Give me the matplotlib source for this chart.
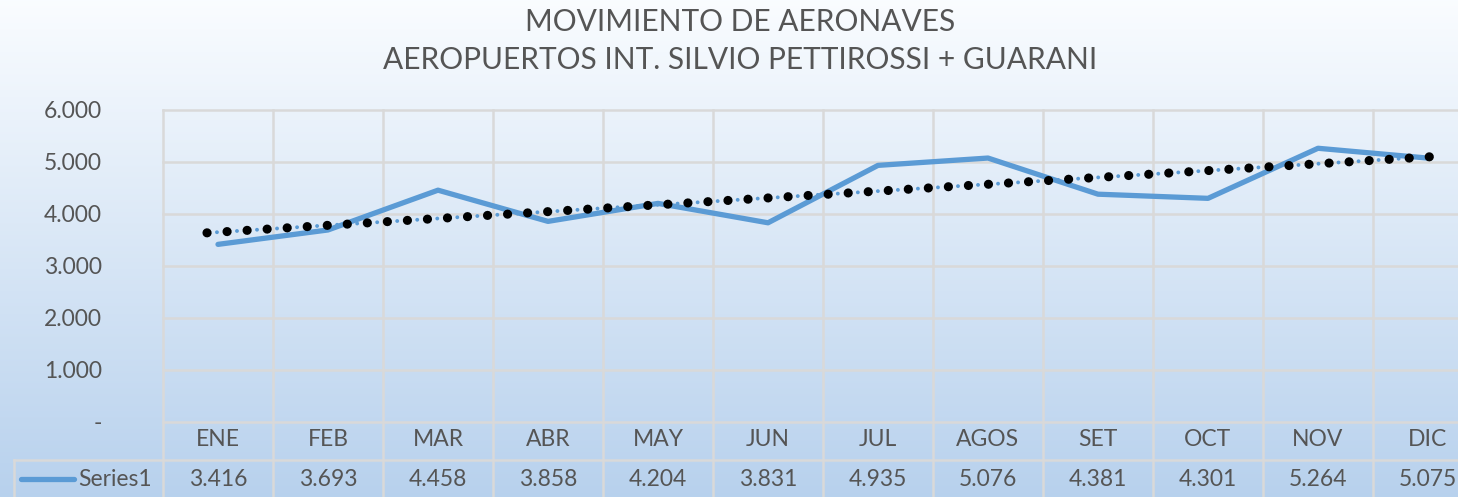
import numpy as np
import matplotlib.pyplot as plt
import matplotlib.transforms as mtransforms

plt.rcParams['font.family'] = ['Lato', 'DejaVu Sans']

meses = ['ENE', 'FEB', 'MAR', 'ABR', 'MAY', 'JUN', 'JUL', 'AGOS', 'SET', 'OCT', 'NOV', 'DIC']
valores = [3416, 3693, 4458, 3858, 4204, 3831, 4935, 5076, 4381, 4301, 5264, 5075]
ytick_vals = [0, 1000, 2000, 3000, 4000, 5000, 6000]
ytick_txt = ['-', '1.000', '2.000', '3.000', '4.000', '5.000', '6.000']
serie = 'Series1'

W, H = 1458, 497
gris = '#555555'
grid_c = '#d9d9d9'
azul = '#5b9bd5'

fig = plt.figure(figsize=(W / 100, H / 100), dpi=100)

# fondo degradado
bg = fig.add_axes([0, 0, 1, 1], zorder=-10)
grad = np.linspace(0, 1, 256).reshape(-1, 1)
top = np.array([0.98, 0.99, 1.0])
bot = np.array([0.72, 0.82, 0.93])
img = top + (bot - top) * grad[:, :, None]
bg.imshow(img, aspect='auto', extent=[0, 1, 0, 1])
bg.axis('off')

def fx(px):
    return px / W

def fy(py):
    return 1 - py / H

x0, x1 = 163, 1483
y0, y1 = 110, 422
ax = fig.add_axes([fx(x0), fy(y1), fx(x1) - fx(x0), fy(y0) - fy(y1)])
ax.patch.set_alpha(0)
for s in ax.spines.values():
    s.set_visible(False)

x = np.arange(len(valores))
ax.set_xlim(-0.5, len(valores) - 0.5)
ax.set_ylim(0, 6000)

# grilla horizontal
for v in ytick_vals:
    ax.axhline(v, color=grid_c, lw=1.8, zorder=1, clip_on=False)

ax.set_yticks(ytick_vals)
ax.set_yticklabels(ytick_txt)
ax.set_xticks([])
ax.tick_params(axis='y', length=0, labelsize=16.5, labelcolor=gris, pad=44)

ax.plot(x, valores, color=azul, lw=3.8, solid_capstyle='round', zorder=3)

# linea de tendencia lineal
m, b = np.polyfit(x, valores, 1)
xt = np.linspace(-0.1, len(valores) - 0.92, 200)
yt = m * xt + b
ax.plot(xt, yt, color=azul, lw=2.8, linestyle=(2.6, (0.01, 5.15)), dash_capstyle='round', zorder=4)
ax.plot(xt, yt, color='black', lw=6.6, linestyle=(0, (0.01, 2.18)), dash_capstyle='round', zorder=5)

# lineas verticales y tabla de datos
trans = mtransforms.blended_transform_factory(ax.transData, fig.transFigure)
for i in range(len(valores) + 1):
    xv = i - 0.5
    ax.plot([xv, xv], [fy(y0), 0], color=grid_c, lw=1.8, transform=trans,
            clip_on=False, zorder=1)
fig.add_artist(plt.Line2D([fx(14), 1], [fy(460), fy(460)], color=grid_c, lw=1.8))
fig.add_artist(plt.Line2D([fx(14), fx(14)], [fy(460), 0], color=grid_c, lw=1.8))

for i, (mes, v) in enumerate(zip(meses, valores)):
    ax.text(i, fy(440), mes, transform=trans, ha='center', va='center',
            fontsize=16.5, color=gris)
    ax.text(i, fy(479), f'{v / 1000:.3f}', transform=trans, ha='center', va='center',
            fontsize=16.5, color=gris)

fig.add_artist(plt.Line2D([fx(21), fx(74)], [fy(479), fy(479)], color=azul, lw=3.8,
                          solid_capstyle='round'))
fig.text(fx(152), fy(479), serie, ha='right', va='center', fontsize=16.5, color=gris)

fig.text(fx(740), fy(22), 'MOVIMIENTO DE AERONAVES', ha='center', va='center',
         fontsize=21.5, color=gris)
fig.text(fx(740), fy(60), 'AEROPUERTOS INT. SILVIO PETTIROSSI + GUARANI', ha='center',
         va='center', fontsize=21.5, color=gris)

fig.savefig('out.png', dpi=100)
